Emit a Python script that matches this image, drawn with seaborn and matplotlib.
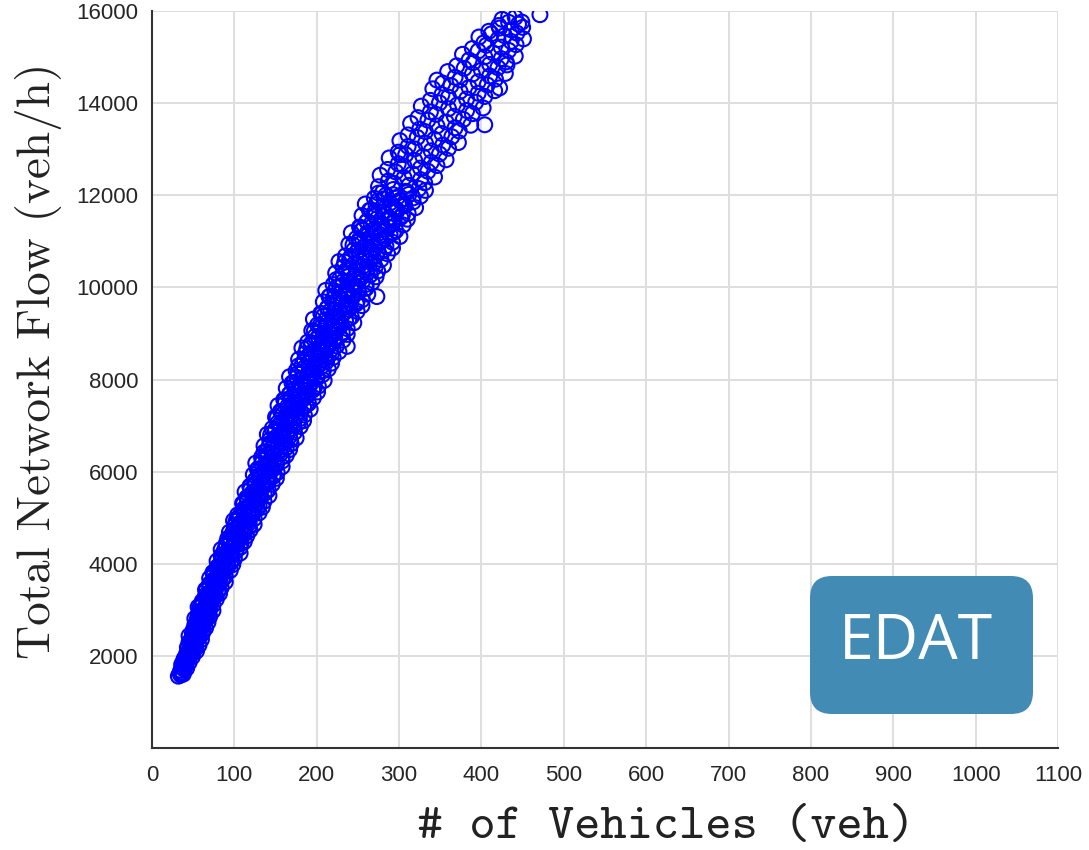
import matplotlib
matplotlib.use("Agg")
import matplotlib.pyplot as plt
import seaborn as sns
import pandas as pd
from matplotlib.patches import FancyBboxPatch
from matplotlib.transforms import IdentityTransform

# ---- data: number of vehicles vs total network flow ----
# outer band of the cloud
vehicles_a = [
    32, 34, 35, 36, 38,
    35, 37, 39, 40, 42,
    36, 38, 40, 42, 45,
    39, 42, 44, 47, 49,
    43, 46, 49, 52, 54,
    43, 46, 50, 53, 57,
    46, 50, 53, 57, 60,
    45, 49, 53, 57, 61,
    50, 54, 57, 62, 65,
    54, 57, 61, 65, 68,
    52, 56, 61, 65, 70,
    57, 62, 66, 70, 74,
    56, 60, 65, 69, 74,
    61, 66, 70, 74, 78,
    65, 70, 75, 80, 82,
    65, 70, 75, 79, 84,
    70, 75, 80, 85, 89,
    70, 75, 80, 84, 89,
    74, 80, 85, 90, 95,
    80, 85, 90, 95, 98,
    79, 85, 90, 95, 100,
    85, 91, 96, 102, 107,
    84, 90, 96, 101, 107,
    90, 95, 101, 106, 112,
    95, 100, 106, 112, 115,
    94, 101, 107, 113, 119,
    100, 106, 112, 118, 124,
    99, 105, 112, 117, 124,
    104, 111, 117, 124, 130,
    111, 117, 124, 130, 134,
    110, 116, 123, 129, 136,
    115, 122, 128, 136, 142,
    113, 120, 127, 134, 141,
    119, 126, 133, 140, 146,
    125, 132, 139, 147, 151,
    123, 130, 138, 145, 152,
    129, 137, 144, 151, 158,
    126, 134, 142, 149, 158,
    133, 141, 148, 156, 163,
    139, 146, 155, 163, 167,
    136, 144, 153, 161, 169,
    143, 151, 159, 167, 175,
    140, 149, 157, 165, 173,
    146, 155, 163, 172, 180,
    153, 161, 170, 179, 184,
    150, 159, 168, 176, 185,
    156, 166, 174, 184, 192,
    153, 162, 172, 180, 190,
    160, 170, 178, 188, 196,
    167, 176, 186, 195, 201,
    163, 173, 183, 192, 202,
    172, 182, 190, 200, 209,
    167, 177, 188, 197, 207,
    175, 185, 194, 205, 214,
    182, 191, 202, 212, 218,
    178, 189, 200, 210, 220,
    186, 197, 207, 217, 227,
    182, 193, 204, 213, 224,
    189, 200, 210, 222, 232,
    198, 208, 219, 231, 237,
    194, 205, 216, 226, 237,
    201, 213, 223, 235, 245,
    196, 208, 219, 230, 242,
    205, 217, 227, 239, 249,
    213, 224, 236, 248, 255,
    208, 220, 232, 243, 255,
    216, 228, 239, 251, 262,
    211, 224, 236, 247, 260,
    220, 232, 243, 256, 267,
    228, 239, 252, 265, 272,
    223, 236, 249, 261, 274,
    232, 245, 256, 269, 281,
    227, 240, 253, 265, 278,
    235, 248, 260, 274, 286,
    245, 257, 270, 284, 292,
    239, 252, 266, 278, 292,
    248, 262, 275, 289, 301,
    242, 256, 270, 282, 296,
    252, 266, 279, 292, 305,
    261, 274, 288, 302, 310,
    255, 270, 284, 297, 311,
    266, 280, 293, 307, 320,
    259, 274, 289, 302, 317,
    270, 284, 298, 312, 326,
    280, 293, 308, 324, 332,
    275, 294, 312, 331,
    287, 306, 326, 343,
    277, 296, 316, 335,
    286, 306, 326, 346,
    299, 319, 339, 357,
    288, 308, 329, 349,
    299, 319, 339, 360,
    311, 332, 353, 372,
    301, 322, 343, 364,
    311, 332, 352, 373,
    325, 346, 368, 387,
    314, 335, 357, 378,
    323, 345, 367, 389,
    338, 360, 382, 402,
    327, 349, 371, 393,
    338, 360, 382, 404,
    352, 374, 396, 416,
    341, 363, 385, 407,
    353, 374, 396, 417,
    368, 389, 410, 429,
    359, 379, 400, 420,
    370, 390, 410, 430,
    385, 404, 424, 441,
    377, 396, 414, 433,
    389, 406, 424, 442,
    403, 420, 436, 451,
    397, 412, 428, 443,
    409, 422, 436, 450,
    421, 433, 445, 449,
    425, 433, 441,
    471, 273, 237, 255, 301, 404, 422, 431, 346,
]
flow_a = [
    1560, 1625, 1585, 1645, 1605,
    1685, 1750, 1710, 1770, 1730,
    1810, 1875, 1835, 1895, 1855,
    1935, 2000, 1960, 2020, 1980,
    2060, 2125, 2085, 2145, 2105,
    2185, 2250, 2210, 2270, 2230,
    2310, 2375, 2335, 2395, 2355,
    2435, 2500, 2460, 2520, 2480,
    2560, 2625, 2585, 2645, 2605,
    2685, 2750, 2710, 2770, 2730,
    2810, 2875, 2835, 2895, 2855,
    2935, 3000, 2960, 3020, 2980,
    3060, 3125, 3085, 3145, 3105,
    3185, 3250, 3210, 3270, 3230,
    3310, 3375, 3335, 3395, 3355,
    3435, 3500, 3460, 3520, 3480,
    3560, 3625, 3585, 3645, 3605,
    3685, 3750, 3710, 3770, 3730,
    3810, 3875, 3835, 3895, 3855,
    3935, 4000, 3960, 4020, 3980,
    4060, 4125, 4085, 4145, 4105,
    4185, 4250, 4210, 4270, 4230,
    4310, 4375, 4335, 4395, 4355,
    4435, 4500, 4460, 4520, 4480,
    4560, 4625, 4585, 4645, 4605,
    4685, 4750, 4710, 4770, 4730,
    4810, 4875, 4835, 4895, 4855,
    4935, 5000, 4960, 5020, 4980,
    5060, 5125, 5085, 5145, 5105,
    5185, 5250, 5210, 5270, 5230,
    5310, 5375, 5335, 5395, 5355,
    5435, 5500, 5460, 5520, 5480,
    5560, 5625, 5585, 5645, 5605,
    5685, 5750, 5710, 5770, 5730,
    5810, 5875, 5835, 5895, 5855,
    5935, 6000, 5960, 6020, 5980,
    6060, 6125, 6085, 6145, 6105,
    6185, 6250, 6210, 6270, 6230,
    6310, 6375, 6335, 6395, 6355,
    6435, 6500, 6460, 6520, 6480,
    6560, 6625, 6585, 6645, 6605,
    6685, 6750, 6710, 6770, 6730,
    6810, 6875, 6835, 6895, 6855,
    6935, 7000, 6960, 7020, 6980,
    7060, 7125, 7085, 7145, 7105,
    7185, 7250, 7210, 7270, 7230,
    7310, 7375, 7335, 7395, 7355,
    7435, 7500, 7460, 7520, 7480,
    7560, 7625, 7585, 7645, 7605,
    7685, 7750, 7710, 7770, 7730,
    7810, 7875, 7835, 7895, 7855,
    7935, 8000, 7960, 8020, 7980,
    8060, 8125, 8085, 8145, 8105,
    8185, 8250, 8210, 8270, 8230,
    8310, 8375, 8335, 8395, 8355,
    8435, 8500, 8460, 8520, 8480,
    8560, 8625, 8585, 8645, 8605,
    8685, 8750, 8710, 8770, 8730,
    8810, 8875, 8835, 8895, 8855,
    8935, 9000, 8960, 9020, 8980,
    9060, 9125, 9085, 9145, 9105,
    9185, 9250, 9210, 9270, 9230,
    9310, 9375, 9335, 9395, 9355,
    9435, 9500, 9460, 9520, 9480,
    9560, 9625, 9585, 9645, 9605,
    9685, 9750, 9710, 9770, 9730,
    9810, 9875, 9835, 9895, 9855,
    9935, 10000, 9960, 10020, 9980,
    10060, 10125, 10085, 10145, 10105,
    10185, 10250, 10210, 10270, 10230,
    10310, 10375, 10335, 10395, 10355,
    10435, 10500, 10460, 10520, 10480,
    10560, 10625, 10585, 10645, 10605,
    10685, 10750, 10710, 10770, 10730,
    10810, 10875, 10835, 10895, 10855,
    10935, 11000, 10960, 11020, 10980,
    11060, 11125, 11085, 11145, 11105,
    11185, 11250, 11210, 11270, 11230,
    11310, 11375, 11335, 11395, 11355,
    11435, 11500, 11460, 11520, 11480,
    11560, 11625, 11585, 11645, 11605,
    11685, 11750, 11710, 11770, 11730,
    11810, 11875, 11835, 11895, 11855,
    11935, 12000, 11960, 12020, 11980,
    12060, 12125, 12085, 12145, 12105,
    12185, 12255, 12215, 12270,
    12310, 12380, 12340, 12395,
    12435, 12505, 12465, 12520,
    12560, 12630, 12590, 12645,
    12685, 12755, 12715, 12770,
    12810, 12880, 12840, 12895,
    12935, 13005, 12965, 13020,
    13060, 13130, 13090, 13145,
    13185, 13255, 13215, 13270,
    13310, 13380, 13340, 13395,
    13435, 13505, 13465, 13520,
    13560, 13630, 13590, 13645,
    13685, 13755, 13715, 13770,
    13810, 13880, 13840, 13895,
    13935, 14005, 13965, 14020,
    14060, 14130, 14090, 14145,
    14185, 14255, 14215, 14270,
    14310, 14380, 14340, 14395,
    14435, 14505, 14465, 14520,
    14560, 14630, 14590, 14645,
    14685, 14755, 14715, 14770,
    14810, 14880, 14840, 14895,
    14935, 15005, 14965, 15020,
    15060, 15130, 15090, 15145,
    15185, 15255, 15215, 15270,
    15310, 15380, 15340, 15395,
    15435, 15505, 15465, 15520,
    15560, 15630, 15590, 15645,
    15685, 15755, 15715, 15760,
    15820, 15880, 15860,
    15920, 9800, 8720, 11250, 12880, 13530, 14330, 14830, 14500,
]
# dense core of the cloud
vehicles_b = [
    42, 46, 49, 46, 50, 53, 45, 50, 54, 49, 53, 57, 52, 57, 62,
    52, 57, 61, 55, 60, 64, 59, 64, 69, 58, 63, 68, 62, 67, 72,
    67, 72, 77, 66, 72, 77, 70, 76, 82, 76, 82, 87, 75, 81, 86,
    79, 86, 92, 84, 91, 97, 84, 90, 96, 88, 96, 102, 94, 101, 108,
    92, 100, 106, 98, 105, 112, 104, 111, 118, 102, 109, 116, 107, 114, 122,
    113, 121, 128, 111, 119, 127, 116, 124, 132, 122, 131, 139, 119, 128, 136,
    125, 134, 142, 131, 140, 148, 128, 137, 145, 133, 142, 151, 139, 149, 158,
    136, 146, 155, 142, 152, 160, 148, 158, 168, 144, 155, 164, 150, 160, 170,
    156, 168, 178, 152, 164, 174, 158, 170, 180, 165, 177, 187, 161, 172, 183,
    167, 178, 189, 174, 186, 197, 170, 182, 193, 176, 188, 200, 183, 196, 208,
    178, 191, 203, 185, 198, 210, 193, 206, 218, 188, 201, 213, 194, 208, 220,
    202, 216, 228, 197, 211, 223, 204, 218, 230, 211, 226, 239, 206, 220, 233,
    213, 228, 240, 221, 236, 249, 215, 229, 243, 222, 237, 250, 231, 246, 260,
    224, 239, 253, 232, 247, 261, 240, 256, 271, 234, 250, 264, 242, 258, 272,
    250, 267, 282, 244, 260, 275, 252, 268, 283, 261, 278, 293, 253, 270, 286,
    261, 278, 294, 271, 288, 304, 264, 281, 297, 272, 290, 306, 282, 301, 317,
    275, 293, 310,
]
flow_b = [
    2047, 2012, 2067, 2172, 2137, 2192, 2297, 2262, 2317, 2422, 2387, 2442, 2547, 2512, 2567,
    2672, 2637, 2692, 2797, 2762, 2817, 2922, 2887, 2942, 3047, 3012, 3067, 3172, 3137, 3192,
    3297, 3262, 3317, 3422, 3387, 3442, 3547, 3512, 3567, 3672, 3637, 3692, 3797, 3762, 3817,
    3922, 3887, 3942, 4047, 4012, 4067, 4172, 4137, 4192, 4297, 4262, 4317, 4422, 4387, 4442,
    4547, 4512, 4567, 4672, 4637, 4692, 4797, 4762, 4817, 4922, 4887, 4942, 5047, 5012, 5067,
    5172, 5137, 5192, 5297, 5262, 5317, 5422, 5387, 5442, 5547, 5512, 5567, 5672, 5637, 5692,
    5797, 5762, 5817, 5922, 5887, 5942, 6047, 6012, 6067, 6172, 6137, 6192, 6297, 6262, 6317,
    6422, 6387, 6442, 6547, 6512, 6567, 6672, 6637, 6692, 6797, 6762, 6817, 6922, 6887, 6942,
    7047, 7012, 7067, 7172, 7137, 7192, 7297, 7262, 7317, 7422, 7387, 7442, 7547, 7512, 7567,
    7672, 7637, 7692, 7797, 7762, 7817, 7922, 7887, 7942, 8047, 8012, 8067, 8172, 8137, 8192,
    8297, 8262, 8317, 8422, 8387, 8442, 8547, 8512, 8567, 8672, 8637, 8692, 8797, 8762, 8817,
    8922, 8887, 8942, 9047, 9012, 9067, 9172, 9137, 9192, 9297, 9262, 9317, 9422, 9387, 9442,
    9547, 9512, 9567, 9672, 9637, 9692, 9797, 9762, 9817, 9922, 9887, 9942, 10047, 10012, 10067,
    10172, 10137, 10192, 10297, 10262, 10317, 10422, 10387, 10442, 10547, 10512, 10567, 10672, 10637, 10692,
    10797, 10762, 10817, 10922, 10887, 10942, 11047, 11012, 11067, 11172, 11137, 11192, 11297, 11262, 11317,
    11422, 11387, 11442, 11547, 11512, 11567, 11672, 11637, 11692, 11797, 11762, 11817, 11922, 11887, 11942,
    12047, 12012, 12067,
]
x_ticks = [0, 100, 200, 300, 400, 500, 600, 700, 800, 900, 1000, 1100]
y_ticks = [2000, 4000, 6000, 8000, 10000, 12000, 14000, 16000]

df = pd.DataFrame({"vehicles": vehicles_a + vehicles_b, "flow": flow_a + flow_b})

sns.set_style("white")
fig = plt.figure(figsize=(10.89, 8.5), dpi=100)
ax = fig.add_axes([152 / 1089, 1 - 748 / 850, (1058 - 152) / 1089, (748 - 11) / 850])

sns.scatterplot(data=df, x="vehicles", y="flow", ax=ax, marker="o",
                facecolor="none", edgecolor="#0000ff", s=115, linewidth=1.5,
                zorder=3)

ax.set_xlim(0, 1100)
ax.set_ylim(0, 16000)
ax.set_xticks(x_ticks)
ax.set_yticks(y_ticks)
ax.set_xticklabels([str(t) for t in x_ticks], fontfamily="Liberation Sans", fontsize=16, color="#262626")
ax.set_yticklabels([str(t) for t in y_ticks], fontfamily="Liberation Sans", fontsize=16, color="#262626")
ax.grid(True, color="#dedede", linewidth=1.4, zorder=0)
ax.set_axisbelow(True)
for s in ["top", "right"]:
    ax.spines[s].set_visible(False)
for s in ["left", "bottom"]:
    ax.spines[s].set_color("#333333")
    ax.spines[s].set_linewidth(1.5)
ax.tick_params(direction="in", length=8, width=1.5, color="#333333")
ax.tick_params(axis="x", pad=12)
ax.tick_params(axis="y", pad=10)

ax.set_xlabel("# of Vehicles (veh)", fontfamily="cmtt10", fontsize=36, color="#222222", va="center")
ax.xaxis.set_label_coords(0.567, -0.108)
ax.set_ylabel("Total Network Flow (veh/h)", fontfamily="cmr10", fontsize=34, color="#222222", va="center")
ax.yaxis.set_label_coords(-0.125, 0.526)

# EDAT badge (pixel coordinates)
box = FancyBboxPatch((810, 850 - 714), 223, 138,
                     boxstyle="round,pad=0,rounding_size=22",
                     facecolor="#428bb4", edgecolor="none",
                     transform=IdentityTransform(), zorder=10)
fig.patches.append(box)
fig.text(916 / 1089, 1 - 643 / 850, "EDAT", fontfamily="Open Sans", fontsize=45,
         color="white", ha="center", va="center", zorder=11)

fig.savefig("out.png", dpi=100)
